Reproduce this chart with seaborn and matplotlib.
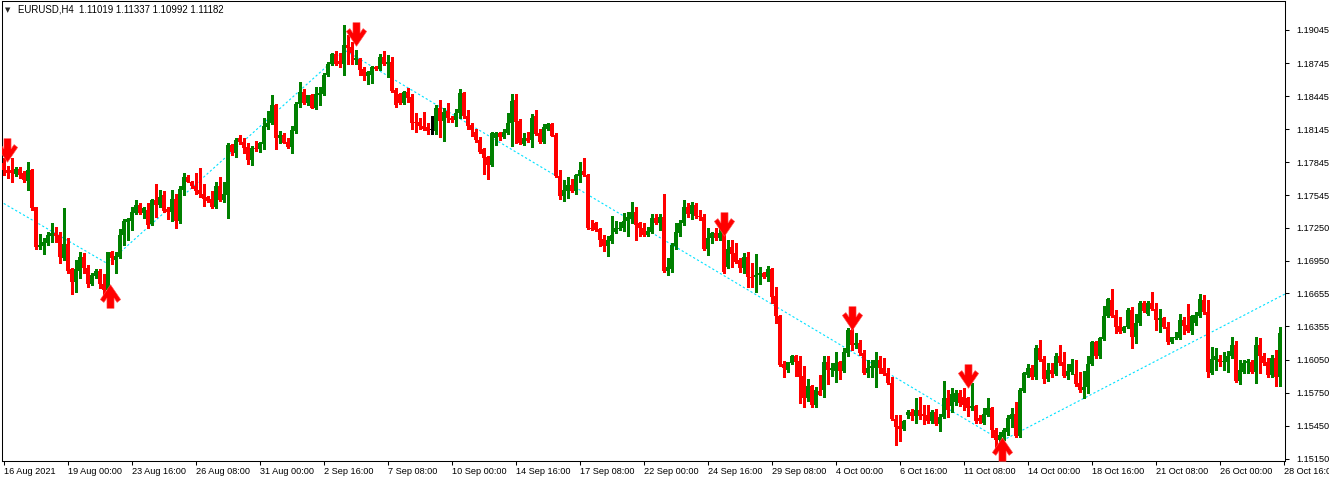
import numpy as np
import pandas as pd
import matplotlib
matplotlib.use("Agg")
import matplotlib.pyplot as plt
import seaborn as sns
from matplotlib.path import Path

# EURUSD H4 bars (one row = 16 bars = one time label)
opens = [
    1.1784, 1.1777, 1.1777, 1.1774, 1.1778, 1.1775, 1.1767, 1.1777, 1.1744, 1.1707, 1.1708, 1.1711, 1.1717, 1.1720, 1.1718, 1.1697,
    1.1710, 1.1687, 1.1676, 1.1686, 1.1698, 1.1688, 1.1674, 1.1681, 1.1686, 1.1674, 1.1668, 1.1703, 1.1696, 1.1698, 1.1718, 1.1730,
    1.1731, 1.1738, 1.1746, 1.1738, 1.1741, 1.1728, 1.1750, 1.1746, 1.1755, 1.1742, 1.1739, 1.1751, 1.1731, 1.1759, 1.1771, 1.1766,
    1.1763, 1.1759, 1.1756, 1.1753, 1.1751, 1.1744, 1.1763, 1.1750, 1.1755, 1.1800, 1.1793, 1.1806, 1.1803, 1.1798, 1.1786, 1.1797,
    1.1796, 1.1801, 1.1816, 1.1820, 1.1836, 1.1806, 1.1809, 1.1803, 1.1798, 1.1813, 1.1837, 1.1848, 1.1838, 1.1845, 1.1834, 1.1845,
    1.1846, 1.1864, 1.1874, 1.1883, 1.1876, 1.1874, 1.1891, 1.1889, 1.1877, 1.1878, 1.1869, 1.1863, 1.1864, 1.1871, 1.1869, 1.1880,
    1.1874, 1.1875, 1.1850, 1.1846, 1.1838, 1.1848, 1.1844, 1.1821, 1.1821, 1.1817, 1.1816, 1.1814, 1.1813, 1.1834, 1.1822, 1.1831,
    1.1825, 1.1823, 1.1829, 1.1847, 1.1826, 1.1818, 1.1812, 1.1805, 1.1796, 1.1789, 1.1782, 1.1806, 1.1811, 1.1807, 1.1811, 1.1820,
    1.1841, 1.1822, 1.1801, 1.1806, 1.1805, 1.1826, 1.1811, 1.1803, 1.1815, 1.1819, 1.1809, 1.1772, 1.1754, 1.1758, 1.1764, 1.1758,
    1.1772, 1.1776, 1.1773, 1.1725, 1.1729, 1.1724, 1.1715, 1.1708, 1.1713, 1.1721, 1.1724, 1.1725, 1.1731, 1.1733, 1.1739, 1.1729,
    1.1725, 1.1718, 1.1721, 1.1734, 1.1729, 1.1735, 1.1686, 1.1687, 1.1708, 1.1720, 1.1729, 1.1744, 1.1737, 1.1746, 1.1736, 1.1735,
    1.1706, 1.1716, 1.1720, 1.1716, 1.1720, 1.1689, 1.1707, 1.1702, 1.1696, 1.1688, 1.1698, 1.1680, 1.1680, 1.1682, 1.1684, 1.1680,
    1.1687, 1.1663, 1.1645, 1.1601, 1.1596, 1.1602, 1.1608, 1.1604, 1.1590, 1.1570, 1.1581, 1.1564, 1.1577, 1.1578, 1.1603, 1.1596,
    1.1595, 1.1603, 1.1595, 1.1611, 1.1632, 1.1618, 1.1620, 1.1611, 1.1593, 1.1598, 1.1598, 1.1605, 1.1598, 1.1593, 1.1584, 1.1551,
    1.1545, 1.1542, 1.1555, 1.1558, 1.1554, 1.1559, 1.1556, 1.1555, 1.1549, 1.1558, 1.1547, 1.1553, 1.1570, 1.1563, 1.1567, 1.1575,
    1.1571, 1.1570, 1.1561, 1.1563, 1.1552, 1.1548, 1.1555, 1.1561, 1.1541, 1.1532, 1.1535, 1.1539, 1.1551, 1.1556, 1.1536, 1.1577,
    1.1591, 1.1598, 1.1589, 1.1616, 1.1606, 1.1588, 1.1596, 1.1592, 1.1608, 1.1603, 1.1590, 1.1594, 1.1592, 1.1584, 1.1578, 1.1580,
    1.1601, 1.1621, 1.1608, 1.1624, 1.1645, 1.1659, 1.1646, 1.1636, 1.1631, 1.1635, 1.1650, 1.1626, 1.1638, 1.1657, 1.1647, 1.1657,
    1.1651, 1.1641, 1.1643, 1.1635, 1.1621, 1.1625, 1.1625, 1.1641, 1.1637, 1.1631, 1.1638, 1.1645, 1.1659, 1.1648, 1.1593, 1.1605,
    1.1606, 1.1603, 1.1603, 1.1608, 1.1618, 1.1586, 1.1594, 1.1602, 1.1603, 1.1594, 1.1618, 1.1608, 1.1603, 1.1591, 1.1607, 1.1589,
]
highs = [
    1.1788, 1.1781, 1.1788, 1.1780, 1.1780, 1.1776, 1.1785, 1.1778, 1.1744, 1.1719, 1.1716, 1.1721, 1.1729, 1.1726, 1.1721, 1.1743,
    1.1716, 1.1688, 1.1696, 1.1703, 1.1702, 1.1691, 1.1684, 1.1687, 1.1687, 1.1683, 1.1703, 1.1704, 1.1703, 1.1724, 1.1733, 1.1734,
    1.1744, 1.1750, 1.1747, 1.1744, 1.1747, 1.1751, 1.1765, 1.1759, 1.1758, 1.1744, 1.1759, 1.1756, 1.1763, 1.1775, 1.1773, 1.1767,
    1.1775, 1.1779, 1.1765, 1.1754, 1.1758, 1.1766, 1.1771, 1.1766, 1.1802, 1.1801, 1.1806, 1.1809, 1.1806, 1.1802, 1.1799, 1.1804,
    1.1803, 1.1825, 1.1831, 1.1845, 1.1837, 1.1813, 1.1811, 1.1806, 1.1817, 1.1839, 1.1857, 1.1851, 1.1845, 1.1846, 1.1853, 1.1853,
    1.1865, 1.1875, 1.1884, 1.1885, 1.1884, 1.1909, 1.1900, 1.1894, 1.1886, 1.1879, 1.1871, 1.1867, 1.1872, 1.1872, 1.1883, 1.1885,
    1.1882, 1.1880, 1.1852, 1.1847, 1.1849, 1.1852, 1.1846, 1.1829, 1.1825, 1.1830, 1.1820, 1.1826, 1.1836, 1.1841, 1.1834, 1.1838,
    1.1826, 1.1833, 1.1851, 1.1848, 1.1832, 1.1820, 1.1815, 1.1807, 1.1797, 1.1790, 1.1812, 1.1812, 1.1812, 1.1815, 1.1829, 1.1846,
    1.1846, 1.1824, 1.1811, 1.1812, 1.1828, 1.1832, 1.1815, 1.1819, 1.1820, 1.1820, 1.1811, 1.1777, 1.1768, 1.1771, 1.1769, 1.1774,
    1.1785, 1.1788, 1.1774, 1.1732, 1.1730, 1.1725, 1.1718, 1.1717, 1.1736, 1.1731, 1.1730, 1.1738, 1.1739, 1.1748, 1.1744, 1.1730,
    1.1729, 1.1726, 1.1737, 1.1737, 1.1737, 1.1756, 1.1697, 1.1711, 1.1729, 1.1732, 1.1750, 1.1747, 1.1748, 1.1747, 1.1741, 1.1737,
    1.1725, 1.1721, 1.1725, 1.1725, 1.1738, 1.1714, 1.1714, 1.1711, 1.1697, 1.1702, 1.1703, 1.1693, 1.1701, 1.1689, 1.1685, 1.1690,
    1.1688, 1.1671, 1.1646, 1.1604, 1.1603, 1.1609, 1.1609, 1.1608, 1.1599, 1.1588, 1.1582, 1.1580, 1.1591, 1.1608, 1.1608, 1.1602,
    1.1612, 1.1604, 1.1616, 1.1634, 1.1637, 1.1629, 1.1623, 1.1614, 1.1605, 1.1605, 1.1612, 1.1608, 1.1607, 1.1598, 1.1589, 1.1555,
    1.1555, 1.1550, 1.1559, 1.1560, 1.1570, 1.1571, 1.1564, 1.1564, 1.1559, 1.1560, 1.1556, 1.1586, 1.1578, 1.1579, 1.1578, 1.1578,
    1.1579, 1.1571, 1.1584, 1.1564, 1.1555, 1.1561, 1.1570, 1.1562, 1.1543, 1.1539, 1.1543, 1.1555, 1.1561, 1.1567, 1.1579, 1.1594,
    1.1601, 1.1600, 1.1618, 1.1623, 1.1608, 1.1602, 1.1602, 1.1611, 1.1618, 1.1612, 1.1601, 1.1606, 1.1605, 1.1594, 1.1595, 1.1608,
    1.1622, 1.1622, 1.1626, 1.1654, 1.1661, 1.1669, 1.1650, 1.1644, 1.1636, 1.1652, 1.1653, 1.1647, 1.1658, 1.1658, 1.1658, 1.1667,
    1.1657, 1.1651, 1.1644, 1.1639, 1.1626, 1.1630, 1.1647, 1.1644, 1.1656, 1.1646, 1.1648, 1.1665, 1.1664, 1.1659, 1.1617, 1.1616,
    1.1609, 1.1612, 1.1613, 1.1626, 1.1622, 1.1605, 1.1605, 1.1606, 1.1605, 1.1626, 1.1625, 1.1611, 1.1607, 1.1609, 1.1614, 1.1635,
]
lows = [
    1.1773, 1.1770, 1.1766, 1.1772, 1.1770, 1.1766, 1.1759, 1.1741, 1.1706, 1.1706, 1.1701, 1.1709, 1.1712, 1.1712, 1.1693, 1.1696,
    1.1684, 1.1665, 1.1667, 1.1679, 1.1684, 1.1671, 1.1673, 1.1679, 1.1670, 1.1661, 1.1666, 1.1692, 1.1684, 1.1697, 1.1709, 1.1714,
    1.1723, 1.1737, 1.1737, 1.1734, 1.1725, 1.1727, 1.1735, 1.1744, 1.1739, 1.1733, 1.1731, 1.1725, 1.1729, 1.1755, 1.1766, 1.1761,
    1.1756, 1.1753, 1.1745, 1.1748, 1.1743, 1.1743, 1.1749, 1.1748, 1.1734, 1.1791, 1.1789, 1.1801, 1.1793, 1.1783, 1.1782, 1.1795,
    1.1794, 1.1796, 1.1815, 1.1819, 1.1796, 1.1802, 1.1802, 1.1797, 1.1793, 1.1811, 1.1835, 1.1837, 1.1836, 1.1834, 1.1833, 1.1836,
    1.1845, 1.1863, 1.1873, 1.1873, 1.1871, 1.1864, 1.1874, 1.1874, 1.1874, 1.1864, 1.1859, 1.1855, 1.1856, 1.1868, 1.1868, 1.1873,
    1.1862, 1.1848, 1.1835, 1.1837, 1.1837, 1.1839, 1.1815, 1.1812, 1.1815, 1.1814, 1.1810, 1.1810, 1.1810, 1.1807, 1.1804, 1.1821,
    1.1821, 1.1817, 1.1825, 1.1825, 1.1815, 1.1808, 1.1803, 1.1793, 1.1774, 1.1769, 1.1781, 1.1800, 1.1805, 1.1806, 1.1810, 1.1799,
    1.1802, 1.1801, 1.1800, 1.1803, 1.1798, 1.1809, 1.1802, 1.1802, 1.1814, 1.1808, 1.1771, 1.1751, 1.1749, 1.1752, 1.1757, 1.1756,
    1.1766, 1.1772, 1.1724, 1.1723, 1.1722, 1.1708, 1.1704, 1.1699, 1.1711, 1.1720, 1.1723, 1.1722, 1.1717, 1.1729, 1.1714, 1.1717,
    1.1717, 1.1717, 1.1720, 1.1728, 1.1723, 1.1685, 1.1682, 1.1685, 1.1706, 1.1717, 1.1727, 1.1735, 1.1733, 1.1734, 1.1732, 1.1705,
    1.1700, 1.1711, 1.1714, 1.1714, 1.1684, 1.1688, 1.1689, 1.1693, 1.1685, 1.1684, 1.1671, 1.1671, 1.1667, 1.1674, 1.1679, 1.1677,
    1.1657, 1.1638, 1.1599, 1.1589, 1.1594, 1.1601, 1.1590, 1.1566, 1.1562, 1.1568, 1.1562, 1.1562, 1.1573, 1.1571, 1.1583, 1.1590,
    1.1585, 1.1588, 1.1594, 1.1608, 1.1614, 1.1616, 1.1609, 1.1592, 1.1589, 1.1589, 1.1580, 1.1593, 1.1591, 1.1583, 1.1550, 1.1528,
    1.1531, 1.1541, 1.1552, 1.1550, 1.1548, 1.1551, 1.1547, 1.1548, 1.1548, 1.1546, 1.1540, 1.1552, 1.1553, 1.1558, 1.1564, 1.1563,
    1.1559, 1.1554, 1.1559, 1.1548, 1.1548, 1.1547, 1.1554, 1.1535, 1.1523, 1.1530, 1.1532, 1.1537, 1.1544, 1.1535, 1.1535, 1.1576,
    1.1589, 1.1588, 1.1588, 1.1604, 1.1584, 1.1586, 1.1589, 1.1591, 1.1600, 1.1589, 1.1588, 1.1592, 1.1581, 1.1576, 1.1570, 1.1575,
    1.1600, 1.1607, 1.1607, 1.1623, 1.1644, 1.1644, 1.1629, 1.1629, 1.1630, 1.1634, 1.1616, 1.1620, 1.1637, 1.1648, 1.1646, 1.1650,
    1.1632, 1.1630, 1.1634, 1.1619, 1.1620, 1.1624, 1.1624, 1.1628, 1.1630, 1.1628, 1.1637, 1.1644, 1.1647, 1.1589, 1.1592, 1.1596,
    1.1599, 1.1596, 1.1594, 1.1607, 1.1585, 1.1583, 1.1593, 1.1593, 1.1593, 1.1584, 1.1593, 1.1600, 1.1589, 1.1589, 1.1581, 1.1581,
]
closes = [
    1.1777, 1.1775, 1.1775, 1.1778, 1.1773, 1.1768, 1.1777, 1.1743, 1.1707, 1.1709, 1.1712, 1.1718, 1.1720, 1.1717, 1.1698, 1.1710,
    1.1686, 1.1676, 1.1687, 1.1698, 1.1688, 1.1674, 1.1682, 1.1686, 1.1674, 1.1668, 1.1703, 1.1697, 1.1699, 1.1718, 1.1731, 1.1733,
    1.1739, 1.1746, 1.1738, 1.1743, 1.1727, 1.1750, 1.1746, 1.1753, 1.1740, 1.1739, 1.1751, 1.1731, 1.1760, 1.1771, 1.1766, 1.1763,
    1.1758, 1.1756, 1.1751, 1.1749, 1.1744, 1.1763, 1.1750, 1.1756, 1.1800, 1.1794, 1.1805, 1.1803, 1.1797, 1.1786, 1.1797, 1.1796,
    1.1802, 1.1817, 1.1820, 1.1836, 1.1806, 1.1809, 1.1802, 1.1798, 1.1814, 1.1837, 1.1848, 1.1838, 1.1845, 1.1834, 1.1846, 1.1847,
    1.1864, 1.1874, 1.1883, 1.1874, 1.1874, 1.1891, 1.1888, 1.1884, 1.1879, 1.1868, 1.1863, 1.1866, 1.1871, 1.1869, 1.1880, 1.1874,
    1.1875, 1.1849, 1.1836, 1.1838, 1.1848, 1.1843, 1.1820, 1.1820, 1.1817, 1.1815, 1.1813, 1.1814, 1.1834, 1.1822, 1.1830, 1.1825,
    1.1823, 1.1829, 1.1847, 1.1826, 1.1817, 1.1814, 1.1805, 1.1794, 1.1788, 1.1782, 1.1811, 1.1811, 1.1807, 1.1812, 1.1820, 1.1840,
    1.1821, 1.1802, 1.1806, 1.1804, 1.1825, 1.1810, 1.1803, 1.1816, 1.1819, 1.1808, 1.1772, 1.1754, 1.1759, 1.1764, 1.1758, 1.1773,
    1.1777, 1.1773, 1.1725, 1.1724, 1.1723, 1.1714, 1.1708, 1.1714, 1.1718, 1.1725, 1.1725, 1.1731, 1.1735, 1.1739, 1.1727, 1.1725,
    1.1718, 1.1722, 1.1734, 1.1729, 1.1735, 1.1686, 1.1689, 1.1709, 1.1721, 1.1729, 1.1744, 1.1737, 1.1746, 1.1736, 1.1735, 1.1706,
    1.1716, 1.1720, 1.1716, 1.1720, 1.1685, 1.1706, 1.1701, 1.1694, 1.1688, 1.1698, 1.1680, 1.1679, 1.1682, 1.1684, 1.1680, 1.1687,
    1.1662, 1.1645, 1.1600, 1.1598, 1.1603, 1.1608, 1.1603, 1.1589, 1.1570, 1.1581, 1.1564, 1.1578, 1.1573, 1.1603, 1.1596, 1.1598,
    1.1602, 1.1595, 1.1612, 1.1632, 1.1618, 1.1620, 1.1611, 1.1593, 1.1598, 1.1599, 1.1605, 1.1598, 1.1592, 1.1584, 1.1551, 1.1544,
    1.1542, 1.1549, 1.1558, 1.1554, 1.1559, 1.1554, 1.1554, 1.1549, 1.1558, 1.1547, 1.1553, 1.1570, 1.1559, 1.1574, 1.1575, 1.1566,
    1.1564, 1.1561, 1.1563, 1.1549, 1.1549, 1.1556, 1.1561, 1.1541, 1.1532, 1.1537, 1.1541, 1.1552, 1.1556, 1.1536, 1.1578, 1.1593,
    1.1598, 1.1589, 1.1616, 1.1605, 1.1588, 1.1596, 1.1592, 1.1608, 1.1602, 1.1590, 1.1595, 1.1601, 1.1583, 1.1578, 1.1580, 1.1601,
    1.1621, 1.1608, 1.1625, 1.1645, 1.1660, 1.1645, 1.1635, 1.1630, 1.1635, 1.1650, 1.1626, 1.1638, 1.1657, 1.1649, 1.1657, 1.1651,
    1.1641, 1.1643, 1.1635, 1.1621, 1.1626, 1.1626, 1.1641, 1.1636, 1.1631, 1.1645, 1.1646, 1.1660, 1.1648, 1.1594, 1.1606, 1.1608,
    1.1603, 1.1604, 1.1608, 1.1618, 1.1586, 1.1596, 1.1602, 1.1604, 1.1594, 1.1618, 1.1608, 1.1602, 1.1591, 1.1607, 1.1589, 1.1629,
]

# time axis labels, one every 16 bars
time_labels = ["16 Aug 2021", "19 Aug 00:00", "23 Aug 16:00", "26 Aug 08:00", "31 Aug 00:00",
               "2 Sep 16:00", "7 Sep 08:00", "10 Sep 00:00", "14 Sep 16:00", "17 Sep 08:00",
               "22 Sep 00:00", "24 Sep 16:00", "29 Sep 08:00", "4 Oct 00:00", "6 Oct 16:00",
               "11 Oct 08:00", "14 Oct 00:00", "18 Oct 16:00", "21 Oct 08:00", "26 Oct 00:00",
               "28 Oct 16:00"]
price_ticks = [1.19045, 1.18745, 1.18445, 1.18145, 1.17845, 1.17545, 1.17250,
               1.16950, 1.16655, 1.16355, 1.16050, 1.15750, 1.15450, 1.15150]

# zigzag (dotted aqua line) turning points: bar index, price
zigzag_bar = [-0.9, 26.0, 85.3, 249.6, 320.4]
zigzag_price = [1.17490, 1.16923, 1.18861, 1.15314, 1.16648]

# signal arrows
arrow_down_bar = [0.9, 88.0, 180.0, 212.0, 241.0]
arrow_down_price = [1.17955, 1.19008, 1.17283, 1.16430, 1.15903]
arrow_up_bar = [26.6, 249.7]
arrow_up_price = [1.16629, 1.15240]

header = "EURUSD,H4  1.11019 1.11337 1.10992 1.11182"

df = pd.DataFrame({"open": opens, "high": highs, "low": lows, "close": closes})
df["bar"] = np.arange(len(df))

BULL = "#008000"
BEAR = "#FF0000"
df["color"] = np.where(df["close"] > df["open"], BULL,
                       np.where(df["close"] < df["open"], BEAR, "#000000"))

sns.set_style("white")
plt.rcParams["font.family"] = ["Liberation Sans", "DejaVu Sans"]
plt.rcParams["axes.linewidth"] = 0.75

W, H = 1329, 482
fig = plt.figure(figsize=(W / 100, H / 100), dpi=100)
ax = fig.add_axes([2 / W, 21 / H, 1283 / W, 460 / H])

# zigzag line under the candles
sns.lineplot(x=zigzag_bar, y=zigzag_price, ax=ax, sort=False, color="#00E1FF",
             linewidth=0.8, linestyle=(0, (2, 2)), zorder=1)

# wicks
ax.vlines(df["bar"], df["low"], df["high"], colors=df["color"], linewidth=0.75,
          antialiased=False, zorder=2)
# bodies
body_lo = df[["open", "close"]].min(axis=1)
body_h = (df["close"] - df["open"]).abs().clip(lower=0.00006)
ax.bar(df["bar"], body_h, bottom=body_lo, width=0.72, color=df["color"],
       linewidth=0, antialiased=False, zorder=3)

# arrows (thick shaft + chunky chevron head)
down_verts = [(-0.3, 1.0), (0.3, 1.0), (0.3, 0.12), (0.56, 0.5), (0.86, 0.26),
              (0.0, -1.0), (-0.86, 0.26), (-0.56, 0.5), (-0.3, 0.12), (-0.3, 1.0)]
down_path = Path(down_verts, closed=True)
up_path = Path([(x, -y) for x, y in down_verts], closed=True)
ax.plot(arrow_down_bar, arrow_down_price, ls="none", marker=down_path, markersize=17,
        color="#FF0000", markeredgecolor="#FF5050", markeredgewidth=0.4, zorder=5)
ax.plot(arrow_up_bar, arrow_up_price, ls="none", marker=up_path, markersize=17,
        color="#FF0000", markeredgecolor="#FF5050", markeredgewidth=0.4, zorder=5)

ax.set_xlim(-0.375, 320.375)
ax.set_ylim(1.15131, 1.19308)

ax.set_xticks(np.arange(len(time_labels)) * 16)
ax.set_xticklabels(time_labels)
for lab in ax.get_xticklabels():
    lab.set_ha("left")
ax.yaxis.tick_right()
ax.set_yticks(price_ticks)
ax.set_yticklabels([f"{p:.5f}" for p in price_ticks])
ax.tick_params(axis="x", direction="out", length=3, width=0.75, pad=1.5,
               labelsize=6.6, colors="black", bottom=True)
ax.tick_params(axis="y", direction="out", length=3, width=0.75, pad=5,
               labelsize=6.6, colors="black", right=True, left=False)
ax.set_xlabel("")
ax.set_ylabel("")
for sp in ax.spines.values():
    sp.set_visible(True)
    sp.set_color("black")

fig.text(5 / W, 1 - 10 / H, "\u25BC", fontsize=5, va="center", ha="left",
         family=["DejaVu Sans"])
fig.text(18 / W, 1 - 10 / H, header, fontsize=6.9, va="center", ha="left", color="black")

fig.savefig("out.png", dpi=100, facecolor="white")
